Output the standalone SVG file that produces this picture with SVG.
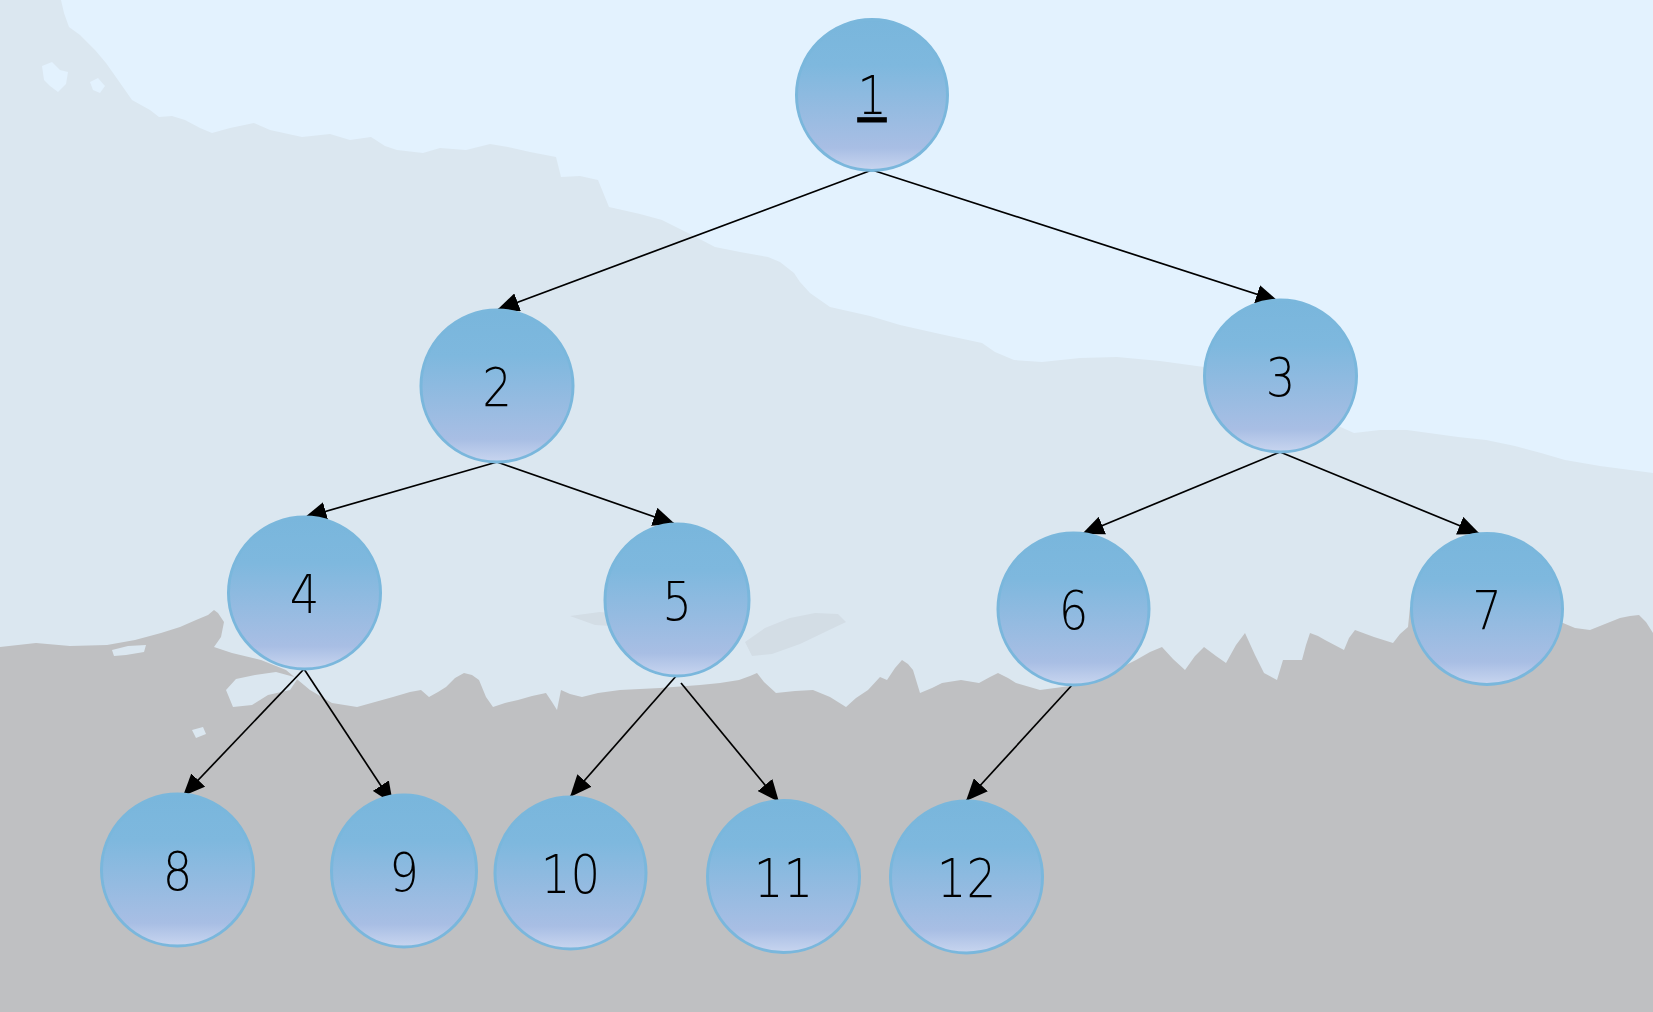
<svg xmlns="http://www.w3.org/2000/svg" width="1653" height="1012" viewBox="0 0 1653 1012">
  <style>
    .node ellipse { fill: url(#nodeFill); stroke: #7AB7DC; stroke-width: 3; }
    .node text { font-family: "DejaVu Sans", "Noto Sans CJK SC", sans-serif; font-weight: 200; font-size: 53px; fill: #000; text-anchor: middle; }
    .edge { stroke: #000; stroke-width: 1.7; fill: none; marker-end: url(#arrow); }
  </style>
  <defs>
    <linearGradient id="nodeFill" x1="0" y1="0" x2="0" y2="1">
      <stop offset="0" stop-color="#79B6DC"/>
      <stop offset="0.3" stop-color="#7EB8DE"/>
      <stop offset="0.6" stop-color="#95BBE1"/>
      <stop offset="0.85" stop-color="#A8BEE4"/>
      <stop offset="1" stop-color="#C8D5EF"/>
    </linearGradient>
    <marker id="arrow" markerUnits="userSpaceOnUse" markerWidth="22" markerHeight="19" viewBox="0 0 22 19" refX="22" refY="9.5" orient="auto">
      <path d="M0,0 L22,9.5 L0,19 Z" fill="#000"/>
    </marker>
  </defs>

  <!-- backdrop: sky, pale hills, grey treeline -->
  <g id="backdrop">
    <rect x="0" y="0" width="1653" height="1012" fill="#E3F2FE"/>
    <path fill="#DBE7F0" d="M0,0 L61,0 L64,13 L69,27 L80,35 L95,50 L106,63 L118,80 L132,100 L150,110 L159,117 L172,116 L185,120 L200,128 L212,133 L230,128 L254,123 L270,130 L302,137 L330,134 L350,140 L371,137 L385,146 L397,150 L423,153 L440,148 L466,150 L490,144 L508,147 L530,152 L556,157 L561,177 L580,176 L598,180 L609,207 L640,214 L662,220 L688,233 L715,247 L740,252 L768,257 L780,262 L794,273 L800,282 L810,293 L830,307 L870,316 L900,325 L940,334 L982,343 L995,352 L1014,360 L1042,362 L1080,358 L1117,357 L1160,361 L1204,367 L1280,400 L1354,433 L1380,430 L1407,430 L1458,437 L1486,440 L1515,446 L1541,453 L1565,460 L1600,466 L1653,473 L1653,1012 L0,1012 Z"/>
    <path fill="#E3F2FE" d="M42,66 L52,62 L60,70 L68,72 L66,84 L58,92 L50,86 L44,80 Z M90,82 L98,78 L105,86 L100,93 L93,90 Z"/>
    <path fill="#D3DDE5" d="M570,616 L600,612 L630,615 L655,620 L662,626 L630,627 L595,625 Z M745,642 L765,628 L790,618 L815,613 L838,614 L846,622 L825,632 L800,644 L772,654 L752,656 Z"/>
    <path fill="#BFC0C2" d="M0,647 L36,643 L70,646 L107,645 L135,640 L161,633 L180,627 L196,620 L208,615 L214,610 L218,613 L224,622 L221,637 L214,647 L232,653 L261,660 L286,670 L310,690 L332,703 L357,707 L375,702 L393,697 L410,692 L421,690 L429,697 L438,692 L446,687 L455,678 L464,673 L472,675 L479,680 L486,697 L493,707 L505,703 L518,700 L532,696 L546,693 L552,702 L557,710 L561,690 L570,694 L582,697 L598,693 L620,690 L660,688 L700,685 L720,683 L739,680 L750,676 L757,673 L764,682 L776,693 L795,691 L813,690 L830,697 L846,707 L856,698 L868,690 L880,677 L887,680 L895,668 L902,660 L908,664 L913,670 L920,693 L932,688 L942,683 L961,680 L979,683 L990,677 L998,673 L1008,678 L1016,683 L1040,690 L1070,686 L1100,680 L1120,668 L1136,660 L1150,652 L1162,647 L1173,659 L1185,670 L1195,656 L1204,647 L1216,656 L1226,663 L1236,645 L1245,633 L1255,655 L1264,673 L1277,680 L1283,660 L1302,660 L1306,645 L1310,633 L1318,636 L1325,640 L1344,650 L1349,638 L1355,630 L1374,637 L1393,643 L1400,634 L1408,627 L1410,607 L1440,610 L1480,615 L1520,620 L1563,623 L1575,628 L1590,630 L1605,624 L1620,618 L1630,616 L1639,615 L1646,622 L1653,633 L1653,1012 L0,1012 Z"/>
    <path fill="#DBE7F0" d="M226,690 L236,679 L255,675 L276,672 L298,678 L290,690 L268,695 L252,705 L233,707 Z M112,650 L128,646 L146,645 L144,652 L126,655 L114,656 Z M192,730 L203,727 L206,734 L196,738 Z"/>
  </g>

  <!-- connectors -->
  <g id="connectors">
    <line class="edge" x1="872" y1="170" x2="497" y2="310"/>
    <line class="edge" x1="872" y1="170" x2="1278" y2="301"/>
    <line class="edge" x1="497" y1="462" x2="304.5" y2="517.5"/>
    <line class="edge" x1="497" y1="462" x2="675" y2="524"/>
    <line class="edge" x1="1280" y1="452" x2="1082" y2="534"/>
    <line class="edge" x1="1280" y1="452" x2="1480" y2="534"/>
    <line class="edge" x1="304" y1="669" x2="183" y2="796"/>
    <line class="edge" x1="304" y1="669" x2="393" y2="804"/>
    <line class="edge" x1="677" y1="675" x2="570" y2="797"/>
    <line class="edge" x1="681" y1="683" x2="779" y2="802"/>
    <line class="edge" x1="1073" y1="684" x2="966" y2="801"/>
  </g>

  <!-- tree nodes; labels are narrowed slightly with scale(0.88 1) -->
  <g id="node-1" class="node">
    <ellipse cx="872" cy="95" rx="75.5" ry="75.5"/>
    <text transform="translate(872 114) scale(0.88 1)" text-decoration="underline">1</text>
  </g>
  <g id="node-2" class="node">
    <ellipse cx="497" cy="386" rx="76" ry="76"/>
    <text transform="translate(497 406) scale(0.88 1)">2</text>
  </g>
  <g id="node-3" class="node">
    <ellipse cx="1280.5" cy="376" rx="76" ry="76"/>
    <text transform="translate(1280.5 396) scale(0.88 1)">3</text>
  </g>
  <g id="node-4" class="node">
    <ellipse cx="304.5" cy="593" rx="76" ry="76"/>
    <text transform="translate(304.5 613) scale(0.88 1)">4</text>
  </g>
  <g id="node-5" class="node">
    <ellipse cx="677" cy="600" rx="72" ry="76"/>
    <text transform="translate(677 620) scale(0.88 1)">5</text>
  </g>
  <g id="node-6" class="node">
    <ellipse cx="1073.5" cy="609" rx="75.5" ry="76"/>
    <text transform="translate(1073.5 629) scale(0.88 1)">6</text>
  </g>
  <g id="node-7" class="node">
    <ellipse cx="1487" cy="609" rx="75.5" ry="75.5"/>
    <text transform="translate(1487 629) scale(0.88 1)">7</text>
  </g>
  <g id="node-8" class="node">
    <ellipse cx="177.5" cy="870" rx="76" ry="76"/>
    <text transform="translate(177.5 890) scale(0.88 1)">8</text>
  </g>
  <g id="node-9" class="node">
    <ellipse cx="404" cy="871" rx="72.5" ry="76"/>
    <text transform="translate(404 891) scale(0.88 1)">9</text>
  </g>
  <g id="node-10" class="node">
    <ellipse cx="570.5" cy="873" rx="75.5" ry="76"/>
    <text transform="translate(570.5 893) scale(0.88 1)">10</text>
  </g>
  <g id="node-11" class="node">
    <ellipse cx="783.5" cy="876.5" rx="76" ry="76"/>
    <text transform="translate(783.5 896.5) scale(0.88 1)">11</text>
  </g>
  <g id="node-12" class="node">
    <ellipse cx="966.5" cy="877" rx="76" ry="76"/>
    <text transform="translate(966.5 897) scale(0.88 1)">12</text>
  </g>
</svg>
